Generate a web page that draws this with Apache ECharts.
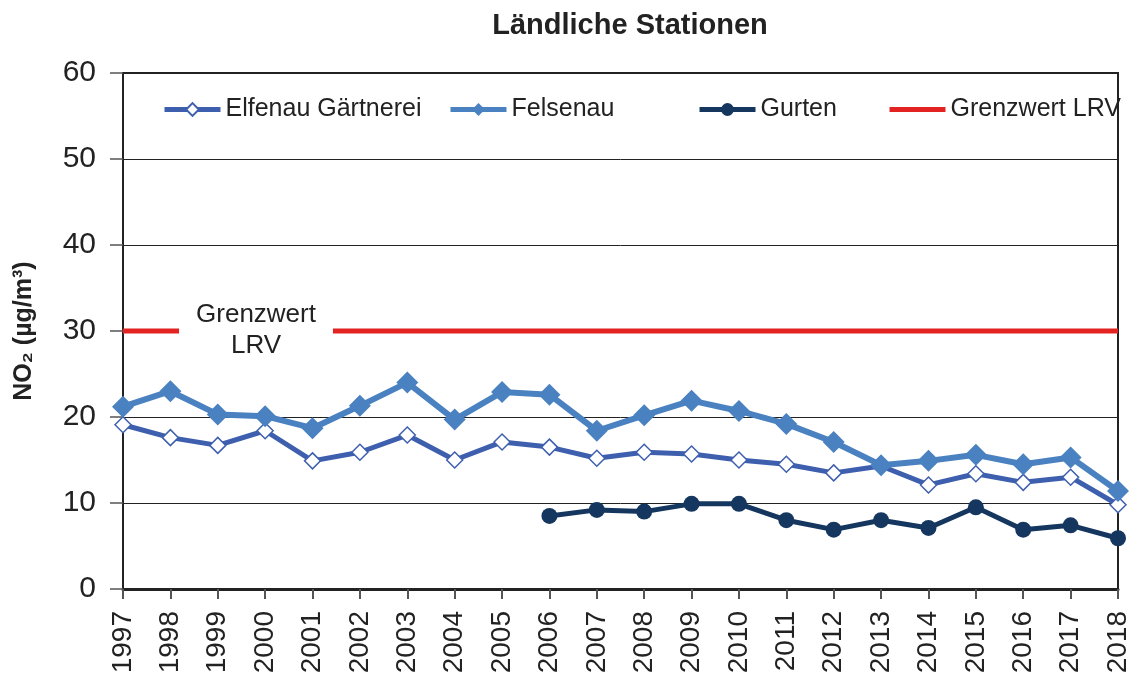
<!DOCTYPE html>
<html><head><meta charset="utf-8">
<script src="https://cdn.jsdelivr.net/npm/echarts@6/dist/echarts.min.js"></script>
<style>html,body{margin:0;padding:0;background:#fff}#c{width:1132px;height:682px}</style>
</head><body><div id="c"></div>
<script>
const years = ['1997','1998','1999','2000','2001','2002','2003','2004','2005','2006','2007','2008','2009','2010','2011','2012','2013','2014','2015','2016','2017','2018'];
const elfenau = [19.1,17.6,16.7,18.4,14.9,15.9,17.9,15.0,17.1,16.5,15.2,15.9,15.7,15.0,14.5,13.5,14.3,12.1,13.4,12.4,13.0,9.8];
const felsenau = [21.2,23.0,20.3,20.1,18.7,21.3,24.0,19.7,22.9,22.6,18.4,20.2,21.9,20.7,19.2,17.1,14.4,14.9,15.6,14.5,15.3,11.4];
const gurten = [null,null,null,null,null,null,null,null,null,8.5,9.2,9.0,9.9,9.9,8.0,6.9,8.0,7.1,9.5,6.9,7.4,5.9];
const grenzwert = years.map(() => 30);
const yTicks = [0,10,20,30,40,50,60];

const font = "'Liberation Sans', Arial, sans-serif";
const chart = echarts.init(document.getElementById('c'), null, {renderer:'canvas'});
const legendBase = {top: 92, itemWidth: 56, itemHeight: 16, lineStyle:{width:5}, textStyle:{fontFamily:font,fontSize:25,color:'#222'}, itemGap: 4, selectedMode:false};
chart.setOption({
  animation:false,
  title:{text:'Ländliche Stationen', left:625, textAlign:'center', top:6, textStyle:{fontFamily:font,fontSize:29,fontWeight:'bold',color:'#222'}},
  legend:[
    Object.assign({left:157, data:['Elfenau Gärtnerei']}, legendBase),
    Object.assign({left:443, data:['Felsenau']}, legendBase),
    Object.assign({left:692, data:['Gurten']}, legendBase),
    Object.assign({left:882, data:[{name:'Grenzwert LRV', itemStyle:{opacity:0}}]}, legendBase)
  ],
  grid:{left:123, right:13, top:73, bottom:93, show:true, borderColor:'#222', borderWidth:2, backgroundColor:'transparent'},
  xAxis:{type:'category', data:years, boundaryGap:false,
    axisLine:{lineStyle:{color:'#222', width:3}},
    axisTick:{show:true, length:10, lineStyle:{color:'#555', width:2}},
    axisLabel:{rotate:90, margin:22, fontFamily:font, fontSize:28, color:'#222'}},
  yAxis:{type:'value', min:yTicks[0], max:yTicks[yTicks.length-1], interval:10,
    name:'NO₂ (µg/m³)', nameLocation:'middle', nameGap:86, nameRotate:90,
    nameTextStyle:{fontFamily:font, fontSize:25, fontWeight:'bold', color:'#222'},
    axisLine:{show:true, lineStyle:{color:'#222', width:2}},
    axisTick:{show:true, inside:false, length:13, lineStyle:{color:'#555', width:1.5}},
    axisLabel:{margin:27, fontFamily:font, fontSize:30, color:'#222'},
    splitLine:{lineStyle:{color:'#222', width:1}}},
  graphic:[{type:'text', x:256, y:299, z:100,
    style:{text:'Grenzwert\nLRV', font:"26px 'Liberation Sans', Arial, sans-serif", fill:'#222', align:'center',
      backgroundColor:'#fff', padding:[0,17,0,17], lineHeight:31}}],
  series:[
    {name:'Grenzwert LRV', type:'line', data:grenzwert, symbol:'none', z:1,
      lineStyle:{color:'#e32322', width:5}, itemStyle:{color:'#e32322'}},
    {name:'Gurten', type:'line', data:gurten, symbol:'circle', symbolSize:16, z:2,
      lineStyle:{color:'#15375f', width:5}, itemStyle:{color:'#15375f'}},
    {name:'Elfenau Gärtnerei', type:'line', data:elfenau, symbol:'diamond', symbolSize:16, z:3,
      lineStyle:{color:'#3e5fae', width:5}, itemStyle:{color:'#fff', borderColor:'#3e5fae', borderWidth:1.5}},
    {name:'Felsenau', type:'line', data:felsenau, symbol:'diamond', symbolSize:22, z:4,
      lineStyle:{color:'#4a81c0', width:6}, itemStyle:{color:'#4a81c0'}}
  ]
});
</script></body></html>
